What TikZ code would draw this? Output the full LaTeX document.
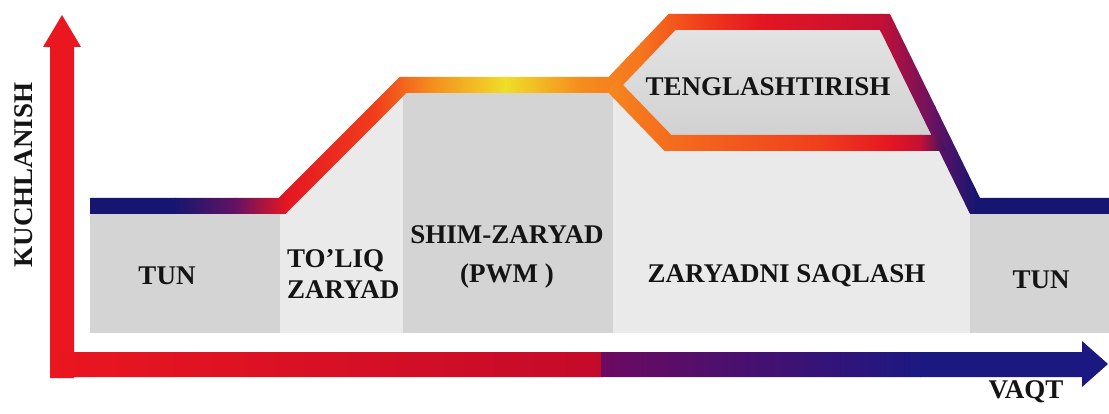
\documentclass[tikz,border=0pt]{standalone}
\usepackage{fontspec}
\setmainfont{Liberation Serif}
\definecolor{navy}{RGB}{22,22,112}
\definecolor{lpurple}{RGB}{100,18,100}
\definecolor{lred}{RGB}{228,22,34}
\definecolor{redor}{RGB}{240,62,28}
\definecolor{lorange}{RGB}{245,140,30}
\definecolor{lorange2}{RGB}{245,118,30}
\definecolor{lyellow}{RGB}{240,222,40}
\definecolor{crimson}{RGB}{196,16,52}
\definecolor{axred}{RGB}{234,22,32}
\definecolor{axcrimson}{RGB}{196,10,42}
\definecolor{axpurple}{RGB}{108,10,96}
\definecolor{axnavy}{RGB}{28,24,130}
\definecolor{blockdark}{RGB}{212,212,212}
\definecolor{blocklight}{RGB}{234,234,234}
\newcommand\hgrad[4]{\shade[left color=#3,right color=#4] (#1,0) rectangle (#2,400);}
\tikzset{
  lbl/.style={font=\fontsize{27}{31}\selectfont\bfseries, text=black!92, inner sep=0pt},
  darkblock/.style={fill=blockdark},
  lightblock/.style={fill=blocklight}
}
\begin{document}
\begin{tikzpicture}[x=1pt,y=-1pt]
\useasboundingbox (0,0) rectangle (1109,414);
\fill[white] (0,0) rectangle (1109,414);

% gray blocks
\fill[darkblock] (90,210) rectangle (280,333);
\fill[lightblock] (280,333) -- (280,210) -- (286,210) -- (410,86) -- (410,333) -- cycle;
\fill[darkblock] (403,90) rectangle (613,333);
\fill[lightblock] (613,333) -- (613,97) -- (664.6,148) -- (941,148) -- (972,212) -- (972,333) -- cycle;
\fill[darkblock] (970,210) rectangle (1109,333);

% interior of the equalisation band
\shade[top color=black!11, middle color=black!3, bottom color=black!18]
  (623.1,85) -- (675.4,30) -- (880,30) -- (931.4,135) -- (671.4,135) -- cycle;

% main voltage line
\begin{scope}
\clip (90,198) -- (278.69,198) -- (399.69,77) -- (608.56,77) -- (668.57,14) -- (890,14)
  -- (980,198) -- (1109,198) -- (1109,214) -- (970,214) -- (880,30) -- (675.43,30)
  -- (615.43,93) -- (406.31,93) -- (285.31,214) -- (90,214) -- cycle;
\fill[navy] (0,0) rectangle (176,400);
\hgrad{175}{236}{navy}{lpurple}
\hgrad{235}{286}{lpurple}{lred}
\hgrad{285}{376}{lred}{redor}
\hgrad{375}{431}{redor}{lorange}
\hgrad{430}{506}{lorange}{lyellow}
\hgrad{505}{581}{lyellow}{lorange}
\hgrad{580}{641}{lorange}{lorange2}
\hgrad{640}{701}{lorange2}{redor}
\hgrad{700}{761}{redor}{lred}
\hgrad{760}{881}{lred}{crimson}
\hgrad{880}{936}{crimson}{lpurple}
\hgrad{935}{976}{lpurple}{navy}
\fill[navy] (975,0) rectangle (1109,400);
\end{scope}

% lower branch
\begin{scope}
\clip (617.76,79.44) -- (671.4,135) -- (940,135) -- (946,151) -- (664.6,151) -- (606.24,90.56) -- cycle;
\hgrad{600}{641}{lorange}{lorange2}
\hgrad{640}{821}{lorange2}{redor}
\hgrad{820}{891}{redor}{lred}
\hgrad{890}{921}{lred}{crimson}
\hgrad{920}{951}{crimson}{navy}
\end{scope}

% axes
\fill[axred] (50,378) -- (50,47) -- (43,47) -- (62,15) -- (81,47) -- (74,47) -- (74,378) -- cycle;
\begin{scope}
\clip (50,352) -- (1082,352) -- (1082,341) -- (1108,364) -- (1082,387) -- (1082,377) -- (50,377) -- cycle;
\hgrad{50}{602}{axred}{axcrimson}
\hgrad{601}{921}{axpurple}{axnavy}
\fill[axnavy] (920,300) rectangle (1109,400);
\end{scope}

% labels
\node[lbl, rotate=90, anchor=base] (kuch) at (32,175) {KUCHLANISH};
\node[lbl, anchor=base] (vaqt) at (1026,398) {VAQT};
\node[lbl, anchor=base] (tun1) at (167,285) {TUN};
\node[lbl, anchor=north west, align=left] (toliq) at (287,249.7) {TO’LIQ\\ZARYAD};
\node[lbl, font=\fontsize{27}{39.5}\selectfont\bfseries, anchor=north, align=center] (shim) at (507,225.1) {SHIM-ZARYAD\\(PWM )};
\node[lbl, anchor=base] (saql) at (786.5,283) {ZARYADNI SAQLASH};
\node[lbl, anchor=base] (tun2) at (1041,288) {TUN};
\node[lbl, anchor=base] (teng) at (768,96) {TENGLASHTIRISH};
\end{tikzpicture}
\end{document}
